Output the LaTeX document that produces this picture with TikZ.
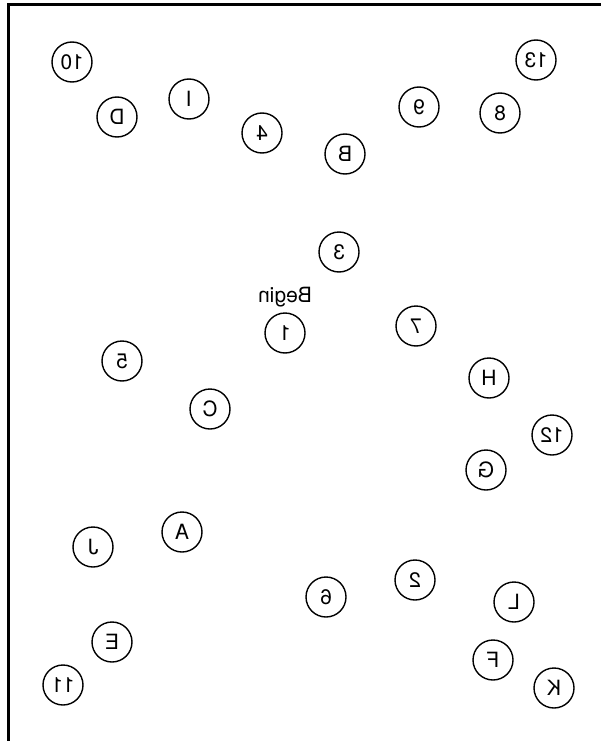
\documentclass[tikz,border=0pt]{standalone}
\usepackage{fontspec}
\setmainfont{TeX Gyre Heros}
\usepackage{graphicx}
\usetikzlibrary{positioning}

\begin{document}
\begin{tikzpicture}[x=1pt, y=-1pt, font=\fontsize{21}{21}\selectfont,
    target/.style={circle, draw, line width=1.4pt, minimum size=40pt, inner sep=0pt}]
  \useasboundingbox (0,0) rectangle (601,741);
  % frame
  \draw[line width=3pt] (8,741) -- (8,5) -- (601,5);
  % mirrored targets
  \foreach \lbl/\x/\y in {10/72/62, D/117/117, I/189/99, 4/262/133,
                          13/536/60, 9/419/107, 8/500/113, B/345/154,
                          3/339/252, 1/285/333, 7/416/326, 5/122/361,
                          C/210/409, H/489/378, 12/552/435, G/486/470,
                          A/182/532, J/93/547, E/112/642, 11/63/685,
                          6/326/597, 2/415/580, L/514/602, F/493/660, K/554/688} {
    \node[target] (t\lbl) at (\x,\y) {\reflectbox{\lbl}};
  }
  \node[above=2pt of t1] (begin) {\reflectbox{Begin}};
\end{tikzpicture}
\end{document}
